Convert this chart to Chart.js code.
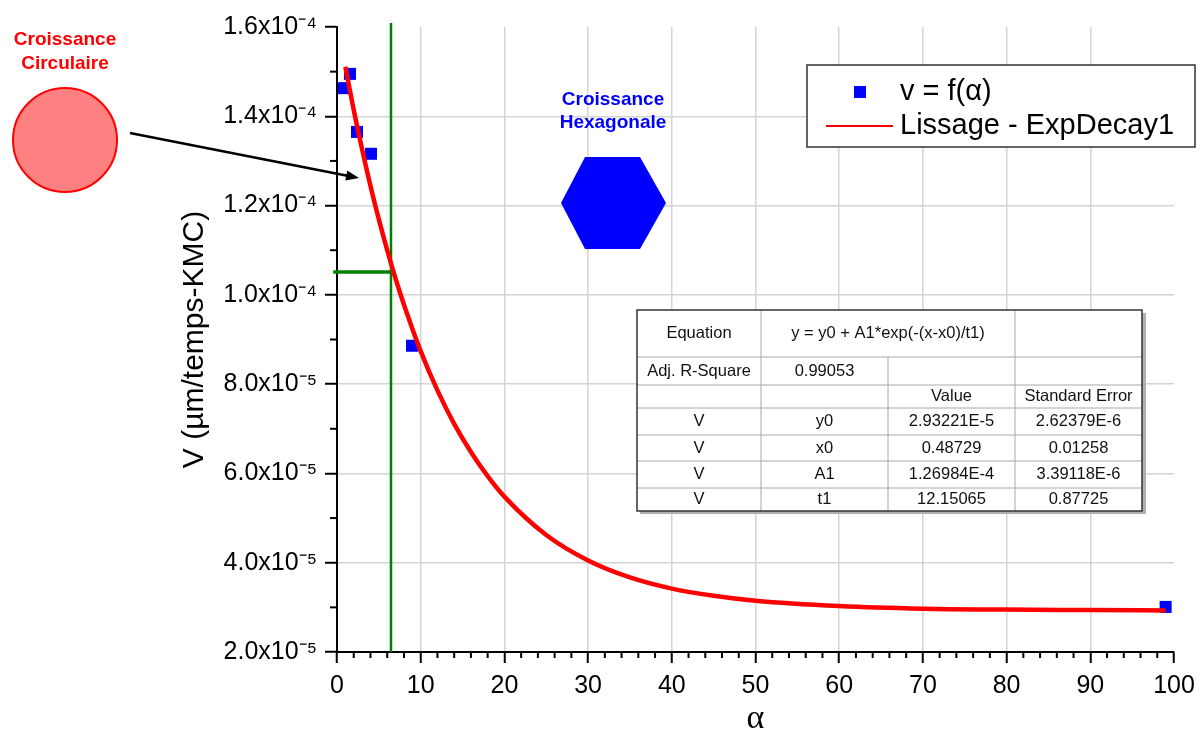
<!DOCTYPE html>
<html>
<head>
<meta charset="utf-8">
<script src="https://cdn.jsdelivr.net/npm/chart.js@4"></script>
<style>
  html, body { margin: 0; padding: 0; background: #fff; }
  #wrap { width: 1204px; height: 753px; position: relative; }
</style>
</head>
<body>
<div id="wrap"><canvas id="chart" width="1204" height="753"></canvas></div>
<script>
// measured points v = f(alpha)
const alphaValues = [0.84, 1.55, 2.39, 4.06, 8.96, 99.0]
const speedValues = [1.463e-4, 1.495e-4, 1.365e-4, 1.316e-4, 8.86e-5, 3.01e-5]

// red fitted curve
const fitAlpha = [1, 2, 3, 4, 5, 6, 7, 8, 10, 12, 14, 16, 18, 20, 25, 30, 35, 40, 45, 50, 60, 70, 80, 90, 99]
const fitSpeed = [1.511e-4, 1.414e-4, 1.326e-4, 1.244e-4, 1.169e-4, 1.100e-4, 1.036e-4, 9.78e-5, 8.74e-5,
  7.86e-5, 7.11e-5, 6.48e-5, 5.94e-5, 5.48e-5, 4.62e-5, 4.05e-5, 3.67e-5, 3.42e-5, 3.26e-5, 3.15e-5,
  3.03e-5, 2.97e-5, 2.95e-5, 2.94e-5, 2.93e-5]

// green transition marker
const markAlpha = 6.45
const markSpeed = 1.051e-4

// axes
const xTicks = [0, 10, 20, 30, 40, 50, 60, 70, 80, 90, 100]
const xTickLabels = ['0', '10', '20', '30', '40', '50', '60', '70', '80', '90', '100']
const yTicks = [2e-5, 4e-5, 6e-5, 8e-5, 1e-4, 1.2e-4, 1.4e-4, 1.6e-4]
const yTickLabels = ['2.0x10⁻⁵', '4.0x10⁻⁵', '6.0x10⁻⁵', '8.0x10⁻⁵', '1.0x10⁻⁴', '1.2x10⁻⁴', '1.4x10⁻⁴', '1.6x10⁻⁴']

// fit report table
const fitEquation = ['Equation', 'y = y0 + A1*exp(-(x-x0)/t1)']
const fitR2 = ['Adj. R-Square', '0.99053']
const fitHeads = ['', '', 'Value', 'Standard Error']
const fitParams = ['y0', 'x0', 'A1', 't1']
const fitValues = ['2.93221E-5', '0.48729', '1.26984E-4', '12.15065']
const fitErrors = ['2.62379E-6', '0.01258', '3.39118E-6', '0.87725']

const FONT = "'Liberation Sans', Arial, sans-serif"

const xAll = []
for (let v = 0; v <= 100; v += 2) xAll.push(v)
const yAll = []
for (let k = 2; k <= 16; k++) yAll.push(k * 1e-5)

const isMajorX = v => v % 10 === 0
const yMajorIndex = v => yTicks.findIndex(t => Math.abs(t - v) < 1e-9)

const decor = {
  id: 'decor',
  afterDraw(chart) {
    const c = chart.ctx
    const xs = chart.scales.x, ys = chart.scales.y
    const area = chart.chartArea
    c.save()

    // minor ticks
    c.strokeStyle = '#000'
    c.lineWidth = 2
    xAll.filter(v => !isMajorX(v)).forEach(v => {
      const px = xs.getPixelForValue(v)
      c.beginPath(); c.moveTo(px, area.bottom); c.lineTo(px, area.bottom + 6); c.stroke()
    })
    yAll.filter(v => yMajorIndex(v) < 0).forEach(v => {
      const py = ys.getPixelForValue(v)
      c.beginPath(); c.moveTo(area.left, py); c.lineTo(area.left - 7, py); c.stroke()
    })

    // legend
    c.fillStyle = '#fff'
    c.fillRect(807, 65, 388, 82)
    c.strokeStyle = '#333'
    c.lineWidth = 1.5
    c.strokeRect(807, 65, 388, 82)
    c.fillStyle = '#0000ff'
    c.fillRect(854, 86, 12, 12)
    c.strokeStyle = '#ff0000'
    c.lineWidth = 2
    c.beginPath(); c.moveTo(826, 126); c.lineTo(893, 126); c.stroke()
    c.fillStyle = '#000'
    c.font = '29px ' + FONT
    c.textAlign = 'left'
    c.textBaseline = 'middle'
    c.fillText(chart.data.datasets[1].label, 900, 92)
    c.fillText(chart.data.datasets[0].label, 900, 126)

    // fit table
    const colX = [637, 761, 888, 1015, 1142]
    const rowY = [310, 357, 385, 408, 435, 461, 488, 511]
    c.fillStyle = '#b0b0b0'
    c.fillRect(colX[4], rowY[0] + 3, 4, rowY[7] - rowY[0])
    c.fillRect(colX[0] + 3, rowY[7], colX[4] - colX[0], 3)
    c.fillStyle = '#fff'
    c.fillRect(colX[0], rowY[0], colX[4] - colX[0], rowY[7] - rowY[0])
    c.strokeStyle = '#a8a8a8'
    c.lineWidth = 1
    for (let r = 1; r < 7; r++) {
      c.beginPath(); c.moveTo(colX[0], rowY[r]); c.lineTo(colX[4], rowY[r]); c.stroke()
    }
    c.beginPath(); c.moveTo(colX[1], rowY[0]); c.lineTo(colX[1], rowY[7]); c.stroke()
    c.beginPath(); c.moveTo(colX[2], rowY[1]); c.lineTo(colX[2], rowY[7]); c.stroke()
    c.beginPath(); c.moveTo(colX[3], rowY[0]); c.lineTo(colX[3], rowY[7]); c.stroke()
    c.strokeStyle = '#333'
    c.lineWidth = 1.5
    c.strokeRect(colX[0], rowY[0], colX[4] - colX[0], rowY[7] - rowY[0])

    c.fillStyle = '#111'
    c.font = '16.5px ' + FONT
    c.textAlign = 'center'
    const mid = (a, b) => (a + b) / 2
    const cy = r => mid(rowY[r], rowY[r + 1])
    c.fillText(fitEquation[0], mid(colX[0], colX[1]), cy(0))
    c.fillText(fitEquation[1], mid(colX[1], colX[3]), cy(0))
    c.fillText(fitR2[0], mid(colX[0], colX[1]), cy(1))
    c.fillText(fitR2[1], mid(colX[1], colX[2]), cy(1))
    fitHeads.forEach((h, i) => c.fillText(h, mid(colX[i], colX[i + 1]), cy(2)))
    fitParams.forEach((p, i) => {
      const row = [chart.data.datasets[1].yName, p, fitValues[i], fitErrors[i]]
      row.forEach((t, j) => c.fillText(t, mid(colX[j], colX[j + 1]), cy(3 + i)))
    })

    // circular growth annotation
    c.fillStyle = '#ff0000'
    c.font = 'bold 19px ' + FONT
    c.fillText('Croissance', 65, 40)
    c.fillText('Circulaire', 65, 64)
    c.beginPath(); c.arc(65, 140, 52, 0, Math.PI * 2)
    c.fillStyle = '#ff8080'; c.fill()
    c.strokeStyle = '#ff0000'; c.lineWidth = 2; c.stroke()

    // arrow
    const x0 = 130, y0 = 133, x1 = 359, y1 = 178
    const ang = Math.atan2(y1 - y0, x1 - x0)
    c.strokeStyle = '#000'; c.lineWidth = 2.5
    c.beginPath(); c.moveTo(x0, y0); c.lineTo(x1 - 8 * Math.cos(ang), y1 - 8 * Math.sin(ang)); c.stroke()
    c.fillStyle = '#000'
    c.beginPath()
    c.moveTo(x1, y1)
    c.lineTo(x1 - 13 * Math.cos(ang) + 5 * Math.sin(ang), y1 - 13 * Math.sin(ang) - 5 * Math.cos(ang))
    c.lineTo(x1 - 13 * Math.cos(ang) - 5 * Math.sin(ang), y1 - 13 * Math.sin(ang) + 5 * Math.cos(ang))
    c.closePath(); c.fill()

    // hexagonal growth annotation
    c.fillStyle = '#0000ff'
    c.font = 'bold 19px ' + FONT
    c.fillText('Croissance', 613, 100)
    c.fillText('Hexagonale', 613, 123)
    c.beginPath()
    c.moveTo(585, 157); c.lineTo(640, 157); c.lineTo(666, 203)
    c.lineTo(640, 249); c.lineTo(585, 249); c.lineTo(561, 203)
    c.closePath(); c.fill()

    c.restore()
  }
}

new Chart(document.getElementById('chart'), {
  type: 'scatter',
  data: {
    datasets: [
      {
        label: 'Lissage - ExpDecay1',
        type: 'line',
        data: fitAlpha.map((x, i) => ({ x, y: fitSpeed[i] })),
        borderColor: '#ff0000',
        borderWidth: 4.5,
        pointRadius: 0,
        cubicInterpolationMode: 'monotone',
        fill: false,
        order: 0
      },
      {
        label: 'v = f(α)',
        yName: 'V',
        data: alphaValues.map((x, i) => ({ x, y: speedValues[i] })),
        pointStyle: 'rect',
        pointRadius: 8.5,
        backgroundColor: '#0000ff',
        borderColor: '#0000ff',
        borderWidth: 0,
        order: 1
      },
      {
        label: 'marker-v',
        type: 'line',
        data: [{ x: markAlpha, y: 2e-5 }, { x: markAlpha, y: 1.609e-4 }],
        borderColor: '#008000',
        borderWidth: 2.5,
        pointRadius: 0,
        clip: false,
        order: 2
      },
      {
        label: 'marker-h',
        type: 'line',
        data: [{ x: -0.45, y: markSpeed }, { x: markAlpha, y: markSpeed }],
        borderColor: '#008000',
        borderWidth: 3.5,
        pointRadius: 0,
        clip: false,
        order: 2
      }
    ]
  },
  options: {
    responsive: false,
    animation: false,
    events: [],
    layout: { padding: { left: 0, right: 30, top: 27, bottom: 0 } },
    plugins: { legend: { display: false }, tooltip: { enabled: false } },
    scales: {
      x: {
        type: 'linear',
        min: 0,
        max: 100,
        afterBuildTicks: s => { s.ticks = xAll.map(v => ({ value: v })) },
        afterFit: s => { s.height = 101 },
        border: { color: '#000', width: 2 },
        grid: {
          color: c => (c.tick && isMajorX(c.tick.value) && c.tick.value > 0 && c.tick.value < 100) ? '#d4d4d4' : 'rgba(0,0,0,0)',
          lineWidth: 1.5,
          tickLength: 11,
          tickWidth: 2,
          tickColor: c => (c.tick && isMajorX(c.tick.value)) ? '#000' : 'rgba(0,0,0,0)'
        },
        ticks: {
          autoSkip: false,
          maxRotation: 0,
          padding: 8,
          color: '#000',
          font: { family: FONT, size: 25 },
          callback: v => { const i = xTicks.indexOf(v); return i >= 0 ? xTickLabels[i] : '' }
        },
        title: {
          display: true,
          text: 'α',
          color: '#000',
          font: { family: "'Liberation Serif', 'DejaVu Serif', serif", size: 34 },
          padding: { top: 0, bottom: 14 }
        }
      },
      y: {
        type: 'linear',
        min: 2e-5,
        max: 1.6e-4,
        afterBuildTicks: s => { s.ticks = yAll.map(v => ({ value: v })) },
        afterFit: s => { s.width = 337 },
        border: { color: '#000', width: 2 },
        grid: {
          color: c => (c.tick && yMajorIndex(c.tick.value) > 0 && yMajorIndex(c.tick.value) < yTicks.length - 1) ? '#d4d4d4' : 'rgba(0,0,0,0)',
          lineWidth: 1.5,
          tickLength: 12,
          tickWidth: 2,
          tickColor: c => (c.tick && yMajorIndex(c.tick.value) >= 0) ? '#000' : 'rgba(0,0,0,0)'
        },
        ticks: {
          autoSkip: false,
          padding: 8,
          color: '#000',
          font: { family: FONT, size: 25 },
          callback: v => { const i = yMajorIndex(v); return i >= 0 ? yTickLabels[i] : '' }
        },
        title: {
          display: true,
          text: 'V (µm/temps-KMC)',
          color: '#000',
          font: { family: FONT, size: 30 },
          padding: { top: 177, bottom: 0 }
        }
      }
    }
  },
  plugins: [decor]
})
</script>
</body>
</html>
